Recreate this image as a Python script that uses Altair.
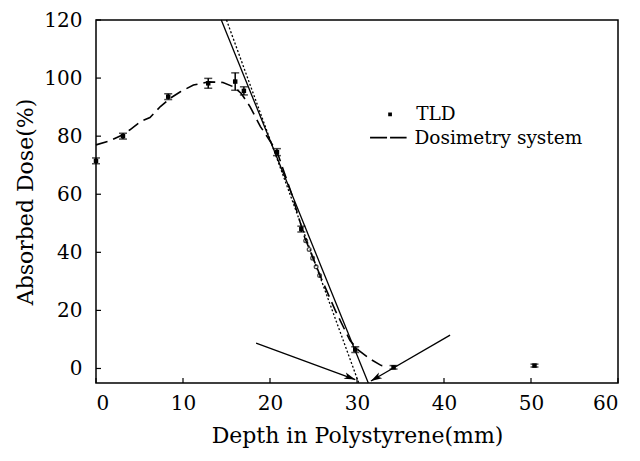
import math
import altair as alt
import pandas as pd

# ---------------- data ----------------
# TLD measurements (depth mm, absorbed dose %, error half-width)
tld_x = [0.0, 3.1, 8.3, 12.9, 16.0, 17.0, 20.8, 23.6, 29.8, 34.2, 50.4]
tld_y = [71.5, 80.0, 93.6, 98.2, 98.8, 95.6, 74.5, 48.0, 6.5, 0.4, 1.0]
tld_err = [1.0, 1.0, 1.0, 1.7, 3.0, 1.4, 1.2, 1.0, 1.0, 0.6, 0.5]

# dense TLD samples (small open circles) in the fall-off region
ring_x = [24.1, 24.5, 24.9, 25.3, 25.7]
ring_y = [44.0, 41.0, 38.0, 35.0, 32.0]

# Dosimetry system curve (dashed)
dose_x = [0.0, 1.6, 2.9, 3.9, 5.1, 6.2, 7.4, 8.5, 9.7, 11.2, 12.9, 14.6, 15.8,
          16.7, 17.7, 18.9, 20.8, 22.5, 24.0, 25.9, 27.5, 29.2, 30.2, 31.5,
          32.8, 33.5]
dose_y = [77.0, 78.4, 80.2, 82.2, 85.0, 86.4, 90.2, 93.0, 95.3, 97.6, 98.7,
          98.5, 97.0, 94.7, 90.2, 83.3, 74.7, 60.0, 45.0, 31.0, 20.0, 9.6, 6.2,
          3.3, 1.0, 0.8]

# extrapolation lines of the fall-off
solid_x = [14.4, 31.3]
solid_y = [120.0, -5.0]
dotted_x = [15.0, 30.2]
dotted_y = [120.0, -5.0]

# arrows (start -> tip)
arrow_x = [18.4, 40.7]
arrow_y = [8.7, 11.5]
arrow_x2 = [29.8, 31.6]
arrow_y2 = [-3.8, -4.3]

x_ticks = [0, 10, 20, 30, 40, 50, 60]
y_ticks = [0, 20, 40, 60, 80, 100, 120]

# legend entries
leg_labels = ["TLD", "Dosimetry system"]
leg_x = [36.8, 36.6]
leg_y = [87.5, 79.5]
leg_sym_x = [33.8, 31.5]
leg_sym_x2 = [33.8, 35.7]

# ---------------- layout ----------------
W, H = 522, 363
XDOM = [0, 60]
YDOM = [-5, 120]
FONT = "DejaVu Serif"

px_x = W / (XDOM[1] - XDOM[0])
px_y = H / (YDOM[1] - YDOM[0])

xs = alt.Scale(domain=XDOM, nice=False, zero=False)
ys = alt.Scale(domain=YDOM, nice=False, zero=False)
AX = dict(domain=False, ticks=False, tickSize=0, grid=False,
          labelFont=FONT, labelFontSize=20, labelColor="black",
          titleFont=FONT, titleFontSize=22, titleFontWeight="normal",
          titleColor="black")
XA = alt.Axis(values=x_ticks, title="Depth in Polystyrene(mm)",
              labelPadding=10, titlePadding=12, **AX)
YA = alt.Axis(values=y_ticks, title="Absorbed Dose(%)",
              labelPadding=14, titlePadding=6, **AX)

tld = pd.DataFrame({"x": tld_x, "y": tld_y, "e": tld_err})
tld["lo"] = tld["y"] - tld["e"]
tld["hi"] = tld["y"] + tld["e"]
rings = pd.DataFrame({"x": ring_x, "y": ring_y})
dose = pd.DataFrame({"x": dose_x, "y": dose_y, "o": range(len(dose_x))})
solid = pd.DataFrame({"x": solid_x, "y": solid_y})
dotted = pd.DataFrame({"x": dotted_x, "y": dotted_y})
arr = pd.DataFrame({"x": arrow_x, "y": arrow_y, "x2": arrow_x2, "y2": arrow_y2})
arr["ang"] = [math.degrees(math.atan2((a - b) * px_y, (d - c) * px_x))
              for a, b, c, d in zip(arrow_y, arrow_y2, arrow_x, arrow_x2)]
xt = pd.DataFrame({"v": x_ticks})
yt = pd.DataFrame({"v": y_ticks})
leg = pd.DataFrame({"label": leg_labels, "x": leg_x, "y": leg_y,
                    "sx": leg_sym_x, "sx2": leg_sym_x2})

X = lambda f="x": alt.X(f"{f}:Q", scale=xs, axis=XA)
Y = lambda f="y": alt.Y(f"{f}:Q", scale=ys, axis=YA)

xtick = alt.Chart(xt).mark_rule(color="black", strokeWidth=1.2).encode(
    x=X("v"), y=alt.value(H), y2=alt.value(H - 5))
ytick = alt.Chart(yt).mark_rule(color="black", strokeWidth=1.2).encode(
    y=Y("v"), x=alt.value(0), x2=alt.value(5))

dose_line = alt.Chart(dose).mark_line(
    color="black", strokeWidth=1.6, strokeDash=[12, 6]).encode(
    x=X(), y=Y(), order="o:Q")
solid_line = alt.Chart(solid).mark_line(color="black", strokeWidth=1.3).encode(
    x=X(), y=Y())
dotted_line = alt.Chart(dotted).mark_line(
    color="black", strokeWidth=1.3, strokeDash=[2, 2]).encode(x=X(), y=Y())

ebar = alt.Chart(tld).mark_rule(color="black", strokeWidth=1.5).encode(
    x=X(), y=Y("lo"), y2="hi:Q")
cap_hi = alt.Chart(tld).mark_tick(color="black", thickness=1.5, size=8,
                                  orient="horizontal").encode(x=X(), y=Y("hi"))
cap_lo = alt.Chart(tld).mark_tick(color="black", thickness=1.5, size=8,
                                  orient="horizontal").encode(x=X(), y=Y("lo"))
dots = alt.Chart(tld).mark_point(filled=True, color="black", size=20,
                                 shape="square", opacity=1).encode(x=X(), y=Y())
ring_pts = alt.Chart(rings).mark_point(filled=False, color="black", size=14,
                                       strokeWidth=1.3).encode(x=X(), y=Y())

arrow_shaft = alt.Chart(arr).mark_rule(color="black", strokeWidth=1.3).encode(
    x=X(), y=Y(), x2="x2:Q", y2="y2:Q")
arrow_head = alt.Chart(arr).mark_point(
    shape="M0,0 L-1,-0.3 L-0.75,0 L-1,0.3 Z", filled=True, color="black",
    size=500, opacity=1).encode(x=X("x2"), y=Y("y2"),
                                angle=alt.Angle("ang:Q", scale=None))

leg_text = alt.Chart(leg).mark_text(align="left", baseline="middle", font=FONT,
                                    fontSize=18.5, color="black").encode(
    x=X(), y=Y(), text="label:N")
leg_dot = alt.Chart(leg.iloc[[0]]).mark_point(filled=True, color="black", size=14,
                                              shape="square", opacity=1).encode(
    x=X("sx"), y=Y())
leg_dash = alt.Chart(leg.iloc[[1]]).mark_rule(color="black", strokeWidth=1.6,
                                              strokeDash=[17, 3]).encode(
    x=X("sx"), x2="sx2:Q", y=Y())

chart = alt.layer(
    xtick, ytick, dose_line, solid_line, dotted_line, ebar, cap_hi,
    cap_lo, dots, ring_pts, arrow_shaft, arrow_head, leg_text, leg_dot, leg_dash
).properties(
    width=W, height=H,
    background="white",
    autosize=alt.AutoSizeParams(type="none"),
    padding={"left": 88, "top": 12, "right": 14, "bottom": 75},
).configure_view(
    stroke="black", strokeWidth=1.5
)

chart.save("out.html", embed_options={"renderer": "svg", "actions": False})
